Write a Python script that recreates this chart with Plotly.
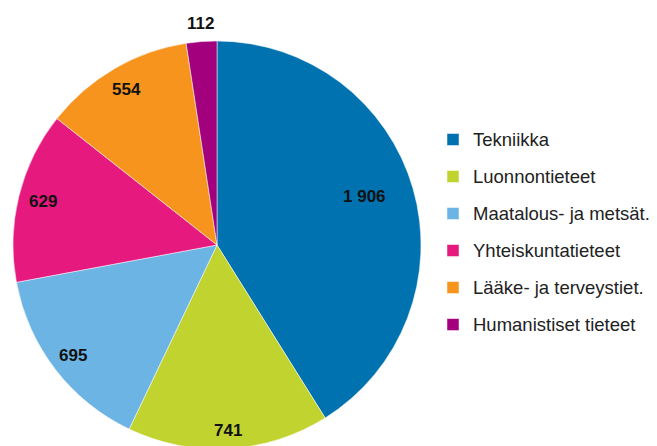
import math
import plotly.graph_objects as go

categories = ["Tekniikka", "Luonnontieteet", "Maatalous- ja metsät.",
              "Yhteiskuntatieteet", "Lääke- ja terveystiet.", "Humanistiset tieteet"]
values = [1906, 741, 695, 629, 554, 112]

colors = ["#0072B0", "#C1D32F", "#6CB4E4", "#E5197E", "#F7941D", "#A3007E"]
# radial placement of the value labels (fraction of radius)
label_radius = [0.75, 0.91, 0.89, 0.88, 0.88, 1.09]

W, H = 657, 446
OFF = 8  # page body margin offset
cx, cy, r = 217 - OFF, 245 - OFF, 204

legend_labels = ["<br> <br><span style='font-size:18.5px'>%s</span><br> " % c for c in categories]

fig = go.Figure(go.Pie(
    labels=legend_labels,
    values=values,
    sort=False,
    direction="clockwise",
    rotation=0,
    marker=dict(colors=colors, line=dict(color="white", width=0.5)),
    textinfo="none",
    domain=dict(x=[(cx - r) / W, (cx + r) / W], y=[1 - (cy + r) / H, 1 - (cy - r) / H]),
    hoverinfo="skip",
))

# value labels placed at each slice's mid-angle (computed from the data)
total = sum(values)
cum = 0
for v, k in zip(values, label_radius):
    mid = (cum + v / 2) / total * 2 * math.pi
    cum += v
    px = cx + k * r * math.sin(mid)
    py = cy - k * r * math.cos(mid) - (6 if k < 0.8 else 0)
    fig.add_annotation(
        x=px / W, y=1 - py / H, xref="paper", yref="paper",
        text=f"{v:,}".replace(",", " "), showarrow=False,
        xanchor="center", yanchor="middle",
        font=dict(family="Liberation Sans", size=17, color="#111111", weight="bold"),
    )

fig.update_layout(
    width=W, height=H,
    margin=dict(l=0, r=0, t=0, b=0, autoexpand=False),
    paper_bgcolor="white",
    showlegend=True,
    legend=dict(
        x=(433 - OFF) / W, xanchor="left",
        y=1 - 108 / H, yanchor="top",
        font=dict(family="Liberation Sans", size=6.54, color="#222222"),
        itemwidth=30,
        bgcolor="rgba(0,0,0,0)",
    ),
)

fig.write_html("out.html")
